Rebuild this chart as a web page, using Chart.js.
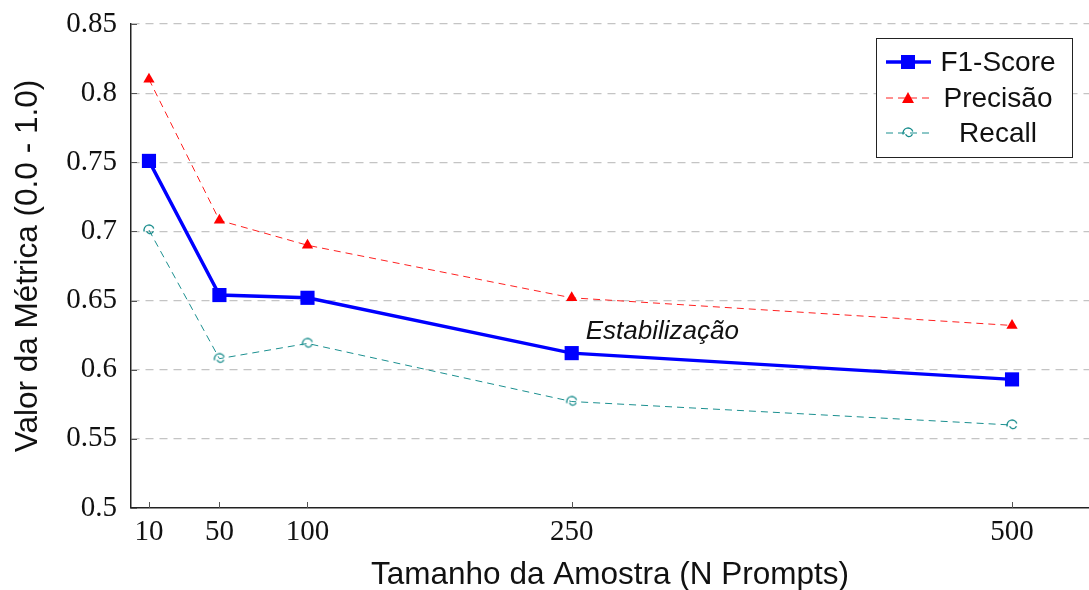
<!DOCTYPE html>
<html>
<head>
<meta charset="utf-8">
<script src="https://cdn.jsdelivr.net/npm/chart.js@4.4.1/dist/chart.umd.min.js"></script>
<style>
  html, body { margin: 0; padding: 0; background: #fff; }
  #myChart { display: block; }
</style>
</head>
<body>
<canvas id="myChart" width="1089" height="590"></canvas>
<script>
const sampleSizes = [10, 50, 100, 250, 500];
const f1Values = [0.751, 0.654, 0.652, 0.612, 0.593];
const precisionValues = [0.810, 0.708, 0.690, 0.652, 0.632];
const recallValues = [0.701, 0.608, 0.619, 0.577, 0.560];
const yTickValues = [0.5, 0.55, 0.6, 0.65, 0.7, 0.75, 0.8, 0.85];
const noteText = "Estabilização";

// little curly marker for Recall
function curlMarker(color) {
    const c = document.createElement("canvas");
    c.width = 16; c.height = 16;
    const g = c.getContext("2d");
    g.strokeStyle = color;
    g.lineWidth = 1.3;
    g.beginPath();
    g.arc(8, 8, 5, Math.PI * 0.9, Math.PI * 1.9);
    g.stroke();
    g.beginPath();
    g.arc(9, 8, 3.5, Math.PI * 0.1, Math.PI * 0.9);
    g.stroke();
    return c;
}
const recallPt = curlMarker("#138a8a");

const xy = (vals) => sampleSizes.map((x, i) => ({x: x, y: vals[i]}));

// inward ticks, legend box and annotation
const extras = {
    id: "extras",
    afterDraw(chart) {
        const g = chart.ctx;
        const a = chart.chartArea;
        const sx = chart.scales.x, sy = chart.scales.y;
        g.save();
        g.strokeStyle = "#555";
        g.lineWidth = 1;
        sampleSizes.forEach(v => {
            const px = Math.round(sx.getPixelForValue(v)) + 0.5;
            g.beginPath(); g.moveTo(px, a.bottom); g.lineTo(px, a.bottom - 6); g.stroke();
        });
        yTickValues.forEach(v => {
            const py = Math.round(sy.getPixelForValue(v)) + 0.5;
            g.beginPath(); g.moveTo(a.left, py); g.lineTo(a.left + 6, py); g.stroke();
        });

        // annotation
        g.fillStyle = "#111";
        g.font = "italic 26px 'Liberation Sans', Arial, sans-serif";
        g.textAlign = "left";
        g.textBaseline = "middle";
        g.fillText(noteText, sx.getPixelForValue(250) + 14, sy.getPixelForValue(0.612) - 21);

        // legend
        const bx = 876.5, by = 38.5, bw = 196, bh = 119;
        g.fillStyle = "#fff";
        g.fillRect(bx, by, bw, bh);
        g.strokeStyle = "#222";
        g.lineWidth = 1;
        g.strokeRect(bx, by, bw, bh);
        const rows = [62, 98, 133];
        g.font = "28px 'Liberation Sans', Arial, sans-serif";
        g.textAlign = "center";
        chart.data.datasets.forEach((ds, i) => {
            const y = rows[i];
            g.save();
            g.strokeStyle = ds.borderColor;
            g.lineWidth = ds.borderWidth;
            g.setLineDash(ds.borderDash || []);
            g.beginPath(); g.moveTo(886, y); g.lineTo(931, y); g.stroke();
            g.restore();
            g.fillStyle = ds.pointBackgroundColor;
            if (i === 0) {
                g.fillRect(908 - 7, y - 7, 14, 14);
            } else if (i === 1) {
                g.beginPath(); g.moveTo(908, y - 6); g.lineTo(914, y + 5); g.lineTo(902, y + 5); g.closePath(); g.fill();
            } else {
                g.drawImage(recallPt, 900, y - 8);
            }
            g.fillStyle = "#111";
            g.fillText(ds.label, 998, y + 1);
        });
        g.restore();
    }
};

new Chart(document.getElementById("myChart"), {
    type: "line",
    data: {
        datasets: [{
            label: "F1-Score",
            data: xy(f1Values),
            borderColor: "#0000ff",
            backgroundColor: "#0000ff",
            pointBackgroundColor: "#0000ff",
            borderWidth: 3.4,
            pointStyle: "rect",
            pointRadius: 10,
            pointBorderWidth: 0,
            order: 1
        }, {
            label: "Precisão",
            data: xy(precisionValues),
            borderColor: "#ff2020",
            backgroundColor: "#ff0000",
            pointBackgroundColor: "#ff0000",
            borderWidth: 1,
            borderDash: [7, 5],
            pointStyle: "triangle",
            pointRadius: 6.5,
            pointBorderWidth: 0,
            order: 2
        }, {
            label: "Recall",
            data: xy(recallValues),
            borderColor: "#1a8f8f",
            backgroundColor: "#1a8f8f",
            pointBackgroundColor: "#1a8f8f",
            borderWidth: 1,
            borderDash: [7, 5],
            pointStyle: recallPt,
            order: 3
        }]
    },
    options: {
        responsive: false,
        animation: false,
        layout: {autoPadding: false, padding: {top: 24, right: 0, left: 0, bottom: 0}},
        plugins: {
            legend: {display: false},
            tooltip: {enabled: false}
        },
        scales: {
            x: {
                type: "linear",
                min: -0.2,
                max: 543.7,
                afterBuildTicks: (axis) => { axis.ticks = sampleSizes.map(v => ({value: v})); },
                afterFit: (axis) => { axis.height = 82; axis.paddingLeft = 0; axis.paddingRight = 0; },
                grid: {display: false, drawTicks: false},
                border: {display: true, color: "#222", width: 1.5},
                ticks: {
                    color: "#111",
                    padding: 7,
                    font: {family: "'Liberation Serif', serif", size: 29},
                    maxRotation: 0,
                    callback: (v) => v
                },
                title: {
                    display: true,
                    text: "Tamanho da Amostra (N Prompts)",
                    color: "#111",
                    font: {family: "'Liberation Sans', Arial, sans-serif", size: 31.5},
                    padding: {top: 9, bottom: -4}
                }
            },
            y: {
                min: 0.5,
                max: 0.85,
                afterBuildTicks: (axis) => { axis.ticks = yTickValues.map(v => ({value: v})); },
                afterFit: (axis) => { axis.width = 131; axis.paddingTop = 0; axis.paddingBottom = 0; },
                grid: {
                    color: (c) => c.tick.value === 0.5 ? "rgba(0,0,0,0)" : "#c4c4c4",
                    lineWidth: 1.2,
                    drawTicks: false
                },
                border: {display: true, color: "#222", width: 1.5, dash: [8, 6]},
                ticks: {
                    color: "#111",
                    padding: 14,
                    font: {family: "'Liberation Serif', serif", size: 29},
                    callback: (v) => String(Math.round(v * 100) / 100)
                },
                title: {
                    display: true,
                    text: "Valor da Métrica (0.0 - 1.0)",
                    color: "#111",
                    font: {family: "'Liberation Sans', Arial, sans-serif", size: 31.5},
                    padding: {top: 9, bottom: 4}
                }
            }
        }
    },
    plugins: [extras]
});
</script>
</body>
</html>
